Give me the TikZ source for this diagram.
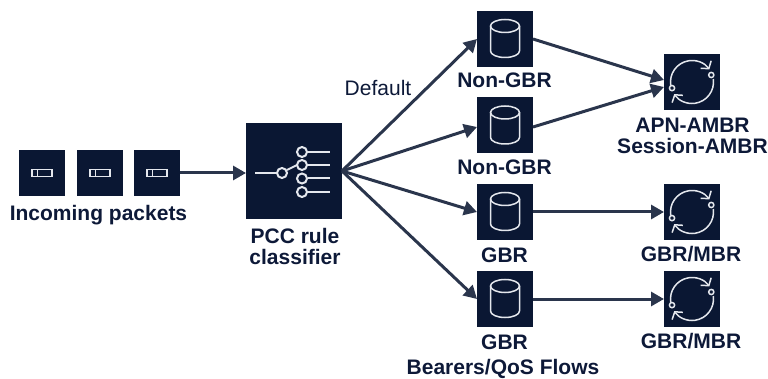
\documentclass[tikz,border=0pt]{standalone}
\usepackage{xcolor}
\usepackage{fontspec}
\setmainfont{Liberation Sans}
\usetikzlibrary{arrows.meta}
\definecolor{iconcolor}{RGB}{10,23,51}
\definecolor{labelcolor}{RGB}{13,25,56}
\definecolor{flowcolor}{RGB}{42,53,76}
\definecolor{glyphcolor}{RGB}{228,231,237}

\tikzset{
    packetbox/.style={fill=iconcolor, draw=none, minimum size=46pt, inner sep=0pt, outer sep=0pt},
    classbox/.style={fill=iconcolor, draw=none, minimum size=96pt, inner sep=0pt, outer sep=0pt},
    iconbox/.style={fill=iconcolor, draw=none, minimum size=56pt, inner sep=0pt, outer sep=0pt},
    label/.style={text=labelcolor, font=\fontsize{21}{21}\selectfont\bfseries, align=center, inner sep=0pt},
    glyph/.style={draw=glyphcolor, line width=1.5pt},
    switchglyph/.style={draw=glyphcolor, line width=2pt},
    flow/.style={-{Triangle[length=13pt, width=14pt]}, draw=flowcolor, line width=3pt},
    packetglyph/.pic={
        \draw[glyph] (-10,-3.5) rectangle (10,3.5);
        \draw[glyph] (-4.5,-3.5) -- (-4.5,3.5);
    },
    drumglyph/.pic={
        \draw[glyph] (0,-13) ellipse (14.5 and 6.5);
        \draw[glyph] (-14.5,-13) -- (-14.5,12) arc[start angle=180, end angle=360, x radius=14.5, y radius=-6.5] -- (14.5,-13);
    },
    cycleglyph/.pic={
        \begin{scope}[y=1pt]
            \draw[glyph, -{Straight Barb[length=5pt, width=13pt]}] (190:21.5) arc[start angle=190, end angle=36, radius=21.5];
            \draw[glyph, -{Straight Barb[length=5pt, width=13pt]}] (8:21.5) arc[start angle=8, end angle=-146, radius=21.5];
            \draw[glyph, fill=iconcolor] (20:20.5) circle (2.6);
            \draw[glyph, fill=iconcolor] (197:20.9) circle (2.6);
        \end{scope}
    },
}

\begin{document}
\begin{tikzpicture}[x=1pt, y=-1pt]
    \useasboundingbox (0,0) rectangle (768,379);

    % Packets
    \node[packetbox] (pktone) at (42,173) {};
    \node[packetbox] (pkttwo) at (100,173) {};
    \node[packetbox] (pktthree) at (157,173) {};
    \pic at (pktone) {packetglyph};
    \pic at (pkttwo) {packetglyph};
    \pic at (pktthree) {packetglyph};
    \node[label] (pktlabel) at (98.5,215) {Incoming packets};

    % Classifier
    \node[classbox] (classifier) at (294,171) {};
    \draw[switchglyph] (255,173) -- (276.5,173);
    \draw[switchglyph] (287,170) -- (297,165);
    \draw[switchglyph] (307.5,152) -- (330,152);
    \draw[switchglyph] (307.5,165) -- (330,165);
    \draw[switchglyph] (307.5,178.5) -- (330,178.5);
    \draw[switchglyph] (307.5,192) -- (330,192);
    \draw[switchglyph] (282,173) circle (5);
    \draw[switchglyph] (302,152) circle (5);
    \draw[switchglyph] (302,165) circle (5);
    \draw[switchglyph] (302,178.5) circle (5);
    \draw[switchglyph] (302,192) circle (5);
    \node[label] (classlabel) at (295,246.5) {PCC rule\\classifier};
    \node[text=labelcolor, font=\fontsize{21}{21}\selectfont, inner sep=0pt] (deflabel) at (378,87.5) {Default};

    % Bearers
    \node[iconbox] (bearerone) at (505,39) {};
    \node[iconbox] (bearertwo) at (505,125.5) {};
    \node[iconbox] (bearerthree) at (505,212) {};
    \node[iconbox] (bearerfour) at (505,299) {};
    \pic at (bearerone) {drumglyph};
    \pic at (bearertwo) {drumglyph};
    \pic at (bearerthree) {drumglyph};
    \pic at (bearerfour) {drumglyph};
    \node[label] (bearerlabelone) at (504.5,80.5) {Non-GBR};
    \node[label] (bearerlabeltwo) at (504.5,167.5) {Non-GBR};
    \node[label] (bearerlabelthree) at (504.5,255) {GBR};
    \node[label] (bearerlabelfour) at (504.5,342) {GBR};
    \node[label] (flowslabel) at (503,369) {Bearers/QoS Flows};

    % Rate limiters
    \node[iconbox] (ambr) at (692,82) {};
    \node[iconbox] (mbrone) at (692,212) {};
    \node[iconbox] (mbrtwo) at (692,299) {};
    \pic at (ambr) {cycleglyph};
    \pic at (mbrone) {cycleglyph};
    \pic at (mbrtwo) {cycleglyph};
    \node[label] (ambrlabel) at (692.5,135.5) {APN-AMBR\\Session-AMBR};
    \node[label] (mbrlabelone) at (691,254.5) {GBR/MBR};
    \node[label] (mbrlabeltwo) at (691,341.5) {GBR/MBR};

    % Flows
    \draw[flow] (pktthree.east) -- ([yshift=-2pt]classifier.west);
    \draw[flow] (classifier.east) -- (bearerone.west);
    \draw[flow] (classifier.east) -- ([yshift=-1.5pt]bearertwo.west);
    \draw[flow] (classifier.east) -- (bearerthree.west);
    \draw[flow] (classifier.east) -- (bearerfour.west);
    \draw[flow] (bearerone.east) -- ([yshift=2pt]ambr.west);
    \draw[flow] ([yshift=-1.5pt]bearertwo.east) -- ([yshift=-5pt]ambr.west);
    \draw[flow] (bearerthree.east) -- (mbrone.west);
    \draw[flow] (bearerfour.east) -- (mbrtwo.west);
\end{tikzpicture}
\end{document}
